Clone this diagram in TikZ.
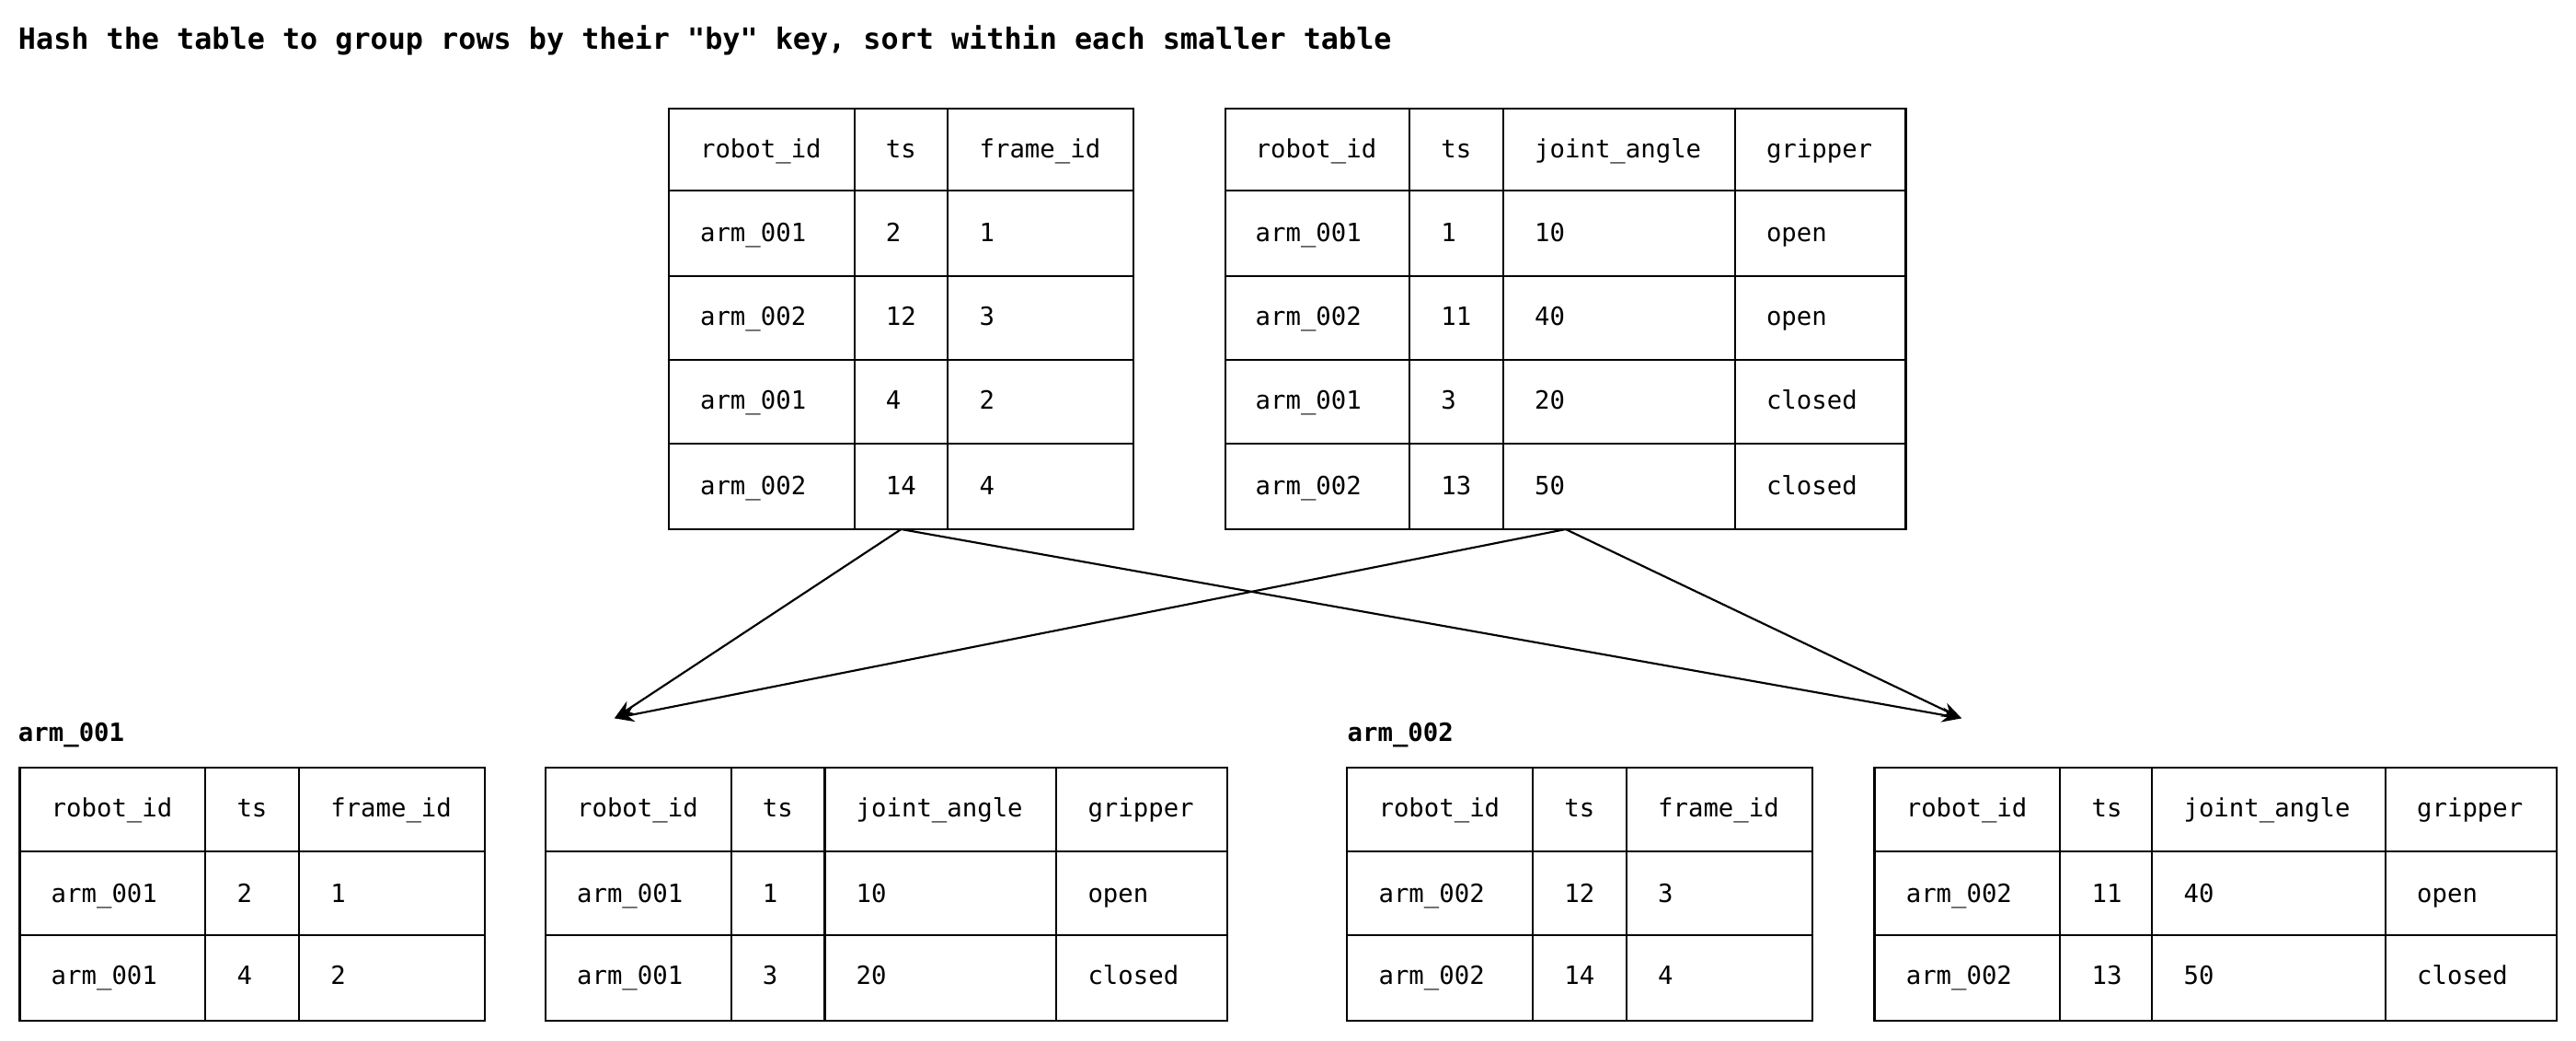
\documentclass[tikz,border=0pt]{standalone}
\usepackage{fontspec}
\setmonofont{DejaVu Sans Mono}
\usetikzlibrary{arrows.meta}
\tikzset{
  tline/.style={draw=black, line width=1.2pt},
  cell/.style={anchor=base west, inner sep=0pt, yshift=-5pt, font=\ttfamily\fontsize{15.3}{18}\selectfont},
  lbl/.style={anchor=base west, inner sep=0pt, yshift=-5pt, font=\ttfamily\bfseries\fontsize{15.3}{18}\selectfont},
  conn/.style={draw=black, line width=1.2pt, -{Stealth[length=12pt,width=9pt]}}
}
% \tbl{name}{left}{top}{right}{bottom}{inner col xs}{inner row ys}{cells x/y/text}
\newcommand{\tbl}[8]{%
  \path[tline] (#2,#3) rectangle (#4,#5);
  \coordinate (#1-nw) at (#2,#3);
  \coordinate (#1-se) at (#4,#5);
  \coordinate (#1-s) at ({(#2+#4)/2},#5);
  \foreach \cx in {#6} {\draw[tline] (\cx,#3) -- (\cx,#5);}
  \foreach \ry in {#7} {\draw[tline] (#2,\ry) -- (#4,\ry);}
  \foreach \tx/\ty/\tt [count=\i] in {#8} {\node[cell] (#1-c\i) at (\tx,\ty) {\tt};}
}
\begin{document}
\begin{tikzpicture}[x=1pt,y=-1pt]
\useasboundingbox[fill=white] (0,0) rectangle (1568,633);
\node[anchor=base west, inner sep=0pt, yshift=-6pt, font=\ttfamily\bfseries\fontsize{17.8}{22}\selectfont] (title) at (11,24) {Hash the table to group rows by their "by" key, sort within each smaller table};

% Table A
\tbl{A}{407}{66}{690}{322}{520,577}{116,168,219,270}{%
426/91/robot\_id,539/91/ts,596/91/frame\_id,
426/142/arm\_001,539/142/2,596/142/1,
426/193/arm\_002,539/193/12,596/193/3,
426/244/arm\_001,539/244/4,596/244/2,
426/296/arm\_002,539/296/14,596/296/4}
% Table B
\tbl{B}{746}{66}{1160}{322}{858,915,1056}{116,168,219,270}{%
764/91/robot\_id,877/91/ts,934/91/joint\_angle,1075/91/gripper,
764/142/arm\_001,877/142/1,934/142/10,1075/142/open,
764/193/arm\_002,877/193/11,934/193/40,1075/193/open,
764/244/arm\_001,877/244/3,934/244/20,1075/244/closed,
764/296/arm\_002,877/296/13,934/296/50,1075/296/closed}

\node[lbl] (g1) at (11,446) {arm\_001};
\node[lbl] (g2) at (820,446) {arm\_002};

\tbl{C}{12}{467}{295}{621}{125,182}{518,569}{%
31/492/robot\_id,144/492/ts,201/492/frame\_id,
31/544/arm\_001,144/544/2,201/544/1,
31/594/arm\_001,144/594/4,201/594/2}
\tbl{D}{332}{467}{747}{621}{445,502,643}{518,569}{%
351/492/robot\_id,464/492/ts,521/492/joint\_angle,662/492/gripper,
351/544/arm\_001,464/544/1,521/544/10,662/544/open,
351/594/arm\_001,464/594/3,521/594/20,662/594/closed}
\tbl{E}{820}{467}{1103}{621}{933,990}{518,569}{%
839/492/robot\_id,952/492/ts,1009/492/frame\_id,
839/544/arm\_002,952/544/12,1009/544/3,
839/594/arm\_002,952/594/14,1009/594/4}
\tbl{F}{1141}{467}{1556}{621}{1254,1310,1452}{518,569}{%
1160/492/robot\_id,1273/492/ts,1329/492/joint\_angle,1471/492/gripper,
1160/544/arm\_002,1273/544/11,1329/544/40,1471/544/open,
1160/594/arm\_002,1273/594/13,1329/594/50,1471/594/closed}

\coordinate (t1) at (374,437);
\coordinate (t2) at (1194,437);
\draw[conn] (A-s) -- (t1);
\draw[conn] (A-s) -- (t2);
\draw[conn] (B-s) -- (t1);
\draw[conn] (B-s) -- (t2);
\end{tikzpicture}
\end{document}
